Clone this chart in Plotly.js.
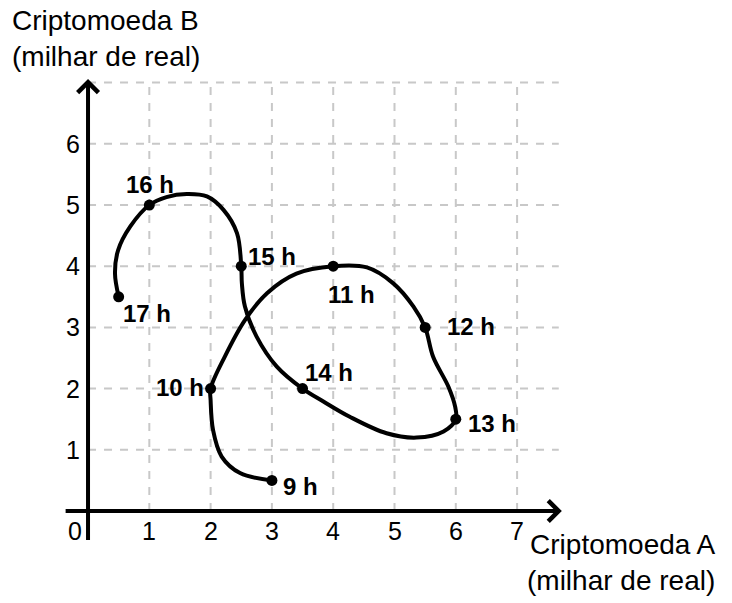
<!DOCTYPE html>
<html>
<head>
<meta charset="utf-8">
<script src="https://cdn.plot.ly/plotly-3.0.1.min.js"></script>
<style>
  html, body { margin: 0; padding: 0; background: #fff; }
  #chart { width: 732px; height: 603px; }
</style>
</head>
<body>
<div id="chart"></div>
<script>
// horários marcados no gráfico
const hours = ['9 h', '10 h', '11 h', '12 h', '13 h', '14 h', '15 h', '16 h', '17 h'];
const valueA = [3, 2, 4, 5.5, 6, 3.5, 2.5, 1, 0.5];
const valueB = [0.5, 2, 4, 3, 1.5, 2, 4, 5, 3.5];

// pontos lidos ao longo da curva (em milhar de real)
const curveA = [3.0, 2.48, 2.18, 2.04, 2.0, 2.0, 2.23, 2.56, 2.92, 3.4, 4.0, 4.55, 4.98, 5.31, 5.5,
  5.63, 5.88, 5.99, 6.0, 5.8, 5.36, 4.87, 4.27, 3.84, 3.5, 3.08, 2.75, 2.56, 2.51, 2.5,
  2.43, 2.21, 1.94, 1.61, 1.28, 1.0, 0.69, 0.49, 0.44, 0.5];
const curveB = [0.5, 0.62, 0.89, 1.32, 1.81, 2.0, 2.52, 3.12, 3.56, 3.88, 4.0, 3.98, 3.72, 3.34, 3.0,
  2.52, 2.03, 1.70, 1.5, 1.30, 1.20, 1.27, 1.54, 1.79, 2.0, 2.36, 2.85, 3.34, 3.72, 4.0,
  4.54, 4.92, 5.14, 5.18, 5.13, 5.0, 4.65, 4.26, 3.88, 3.5];

const xTicks = [1, 2, 3, 4, 5, 6, 7];
const yTicks = [1, 2, 3, 4, 5, 6];
const xGrid = [1, 2, 3, 4, 5, 6, 7];
const yGrid = [1, 2, 3, 4, 5, 6, 7];

// posição do rótulo de cada horário: [xanchor, xshift, yshift]
const labelPos = [
  ['left', 9, -6], ['right', -5, 1], ['center', 18, -28], ['left', 20, 1], ['left', 10, -4],
  ['left', 0, 16], ['left', 5, 10], ['center', 1, 21], ['left', 2, -17]
];

const FONT = '"Liberation Sans", Arial, sans-serif';
const grid = { color: '#c8c8c8', width: 2, dash: '8px,8px' };

const shapes = [];
xGrid.forEach(v => shapes.push({
  type: 'line', layer: 'below', x0: v, x1: v, y0: 0, y1: 7, line: grid
}));
yGrid.forEach(v => shapes.push({
  type: 'line', layer: 'below', x0: 0, x1: 7.68, y0: v, y1: v, line: grid
}));

const annotations = [];
// eixos com seta
annotations.push({
  x: 7.73, y: 0, ax: -0.39, ay: 0, axref: 'x', ayref: 'y', text: '',
  showarrow: true, arrowhead: 4, arrowsize: 1, arrowwidth: 4, arrowcolor: '#000'
});
annotations.push({
  x: 0, y: 7.06, ax: 0, ay: -0.5, axref: 'x', ayref: 'y', text: '',
  showarrow: true, arrowhead: 4, arrowsize: 1, arrowwidth: 4, arrowcolor: '#000'
});
// marcas dos eixos
xTicks.forEach(v => annotations.push({
  x: v, y: 0, text: String(v), showarrow: false, xanchor: 'center', yanchor: 'top', yshift: -4,
  font: { family: FONT, size: 25, color: '#000' }
}));
yTicks.forEach(v => annotations.push({
  x: 0, y: v, text: String(v), showarrow: false, xanchor: 'right', yanchor: 'middle', xshift: -6,
  font: { family: FONT, size: 25, color: '#000' }
}));
annotations.push({
  x: 0, y: 0, text: '0', showarrow: false, xanchor: 'right', yanchor: 'top', xshift: -4, yshift: -4,
  font: { family: FONT, size: 25, color: '#000' }
});
// rótulos dos horários
hours.forEach((h, i) => annotations.push({
  x: valueA[i], y: valueB[i], text: '<b>' + h + '</b>', showarrow: false,
  xanchor: labelPos[i][0], yanchor: 'middle', xshift: labelPos[i][1], yshift: labelPos[i][2],
  font: { family: FONT, size: 24, color: '#000' }
}));
// títulos dos eixos
annotations.push({
  xref: 'paper', yref: 'paper', x: 10 / 732, y: 1, xanchor: 'left', yanchor: 'top', align: 'left',
  yshift: -3, text: 'Criptomoeda B<br>(milhar de real)', showarrow: false,
  font: { family: FONT, size: 28, color: '#000' }
});
annotations.push({
  xref: 'paper', yref: 'paper', x: 718 / 732, y: 0, xanchor: 'right', yanchor: 'bottom', align: 'right',
  yshift: 5, text: 'Criptomoeda A<br>(milhar de real)', showarrow: false,
  font: { family: FONT, size: 28, color: '#000' }
});

const data = [
  {
    x: curveA, y: curveB, mode: 'lines', type: 'scatter',
    line: { color: '#000', width: 4, shape: 'spline', smoothing: 1 },
    hoverinfo: 'skip'
  },
  {
    x: valueA, y: valueB, text: hours, mode: 'markers', type: 'scatter',
    marker: { color: '#000', size: 11 }
  }
];

const layout = {
  width: 732, height: 603,
  margin: { l: 0, r: 0, t: 0, b: 0 },
  paper_bgcolor: '#fff', plot_bgcolor: '#fff',
  showlegend: false,
  xaxis: { range: [-1.436, 10.506], visible: false, fixedrange: true },
  yaxis: { range: [-1.503, 8.350], visible: false, fixedrange: true },
  shapes: shapes,
  annotations: annotations
};

Plotly.newPlot('chart', data, layout, { displayModeBar: false, staticPlot: true });
</script>
</body>
</html>
